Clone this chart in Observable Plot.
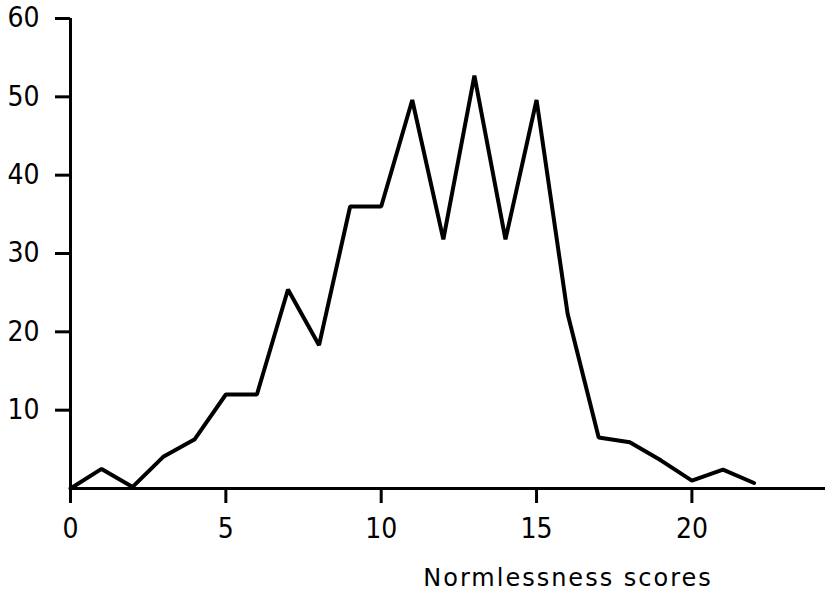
<!DOCTYPE html>
<html>
<head>
<meta charset="utf-8">
<script src="https://cdn.jsdelivr.net/npm/d3@7"></script>
<script src="https://cdn.jsdelivr.net/npm/@observablehq/plot@0.6"></script>
<style>
  html, body { margin: 0; padding: 0; background: #fff; }
  svg { display: block; }
  #chart svg g[aria-label$="-axis tick"] { stroke-width: 3px; }
  #chart svg text.xlabel { letter-spacing: 2px; }
</style>
</head>
<body>
<div id="chart"></div>
<script>
const scores = [0,1,2,3,4,5,6,7,8,9,10,11,12,13,14,15,16,17,18,19,20,21,22];
const counts = [0,2.5,0.2,4.1,6.3,12,12,25.4,18.3,36,36,49.6,31.8,52.7,31.8,49.6,22.3,6.5,5.9,3.6,1.0,2.4,0.7];
const xTicks = [0,5,10,15,20];
const yTicks = [10,20,30,40,50,60];
const xLabel = "Normlessness scores";

const data = scores.map((s, i) => ({score: s, count: counts[i]}));
const tickFont = "'DejaVu Sans Condensed', 'Liberation Sans Narrow', sans-serif";

const chart = Plot.plot({
  width: 825,
  height: 603,
  marginLeft: 70,
  marginRight: 0,
  marginTop: 18,
  marginBottom: 115,
  x: {domain: [0, 24.3]},
  y: {domain: [0, 60]},
  style: {background: "#fff", color: "#000"},
  marks: [
    Plot.axisY(yTicks, {tickSize: 15, tickPadding: 16, fontSize: 28, fontFamily: tickFont, label: null}),
    Plot.axisX(xTicks, {tickSize: 15, tickPadding: 15, fontSize: 28, fontFamily: tickFont, label: null}),
    Plot.ruleY([0], {strokeWidth: 3}),
    Plot.ruleX([0], {y1: 0, y2: 60, strokeWidth: 3}),
    Plot.line(data, {x: "score", y: "count", stroke: "#000", strokeWidth: 4, strokeLinejoin: "miter"}),
    Plot.text([xLabel], {
      frameAnchor: "bottom", dx: 120, dy: 97, text: d => d,
      fontSize: 24, fontFamily: "'DejaVu Sans', sans-serif", fill: "#000"
    })
  ]
});
chart.querySelectorAll('g[aria-label="text"] text').forEach(t => t.classList.add("xlabel"));
document.getElementById("chart").appendChild(chart);
</script>
</body>
</html>
